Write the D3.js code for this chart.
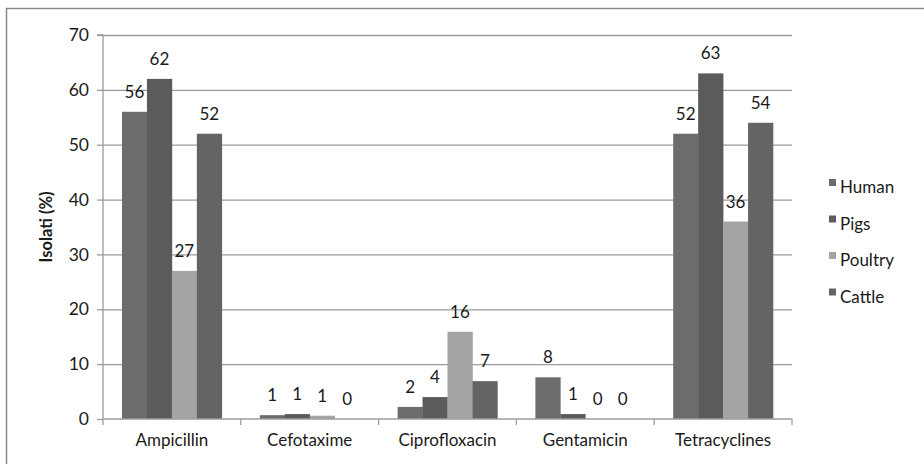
<!DOCTYPE html>
<html><head><meta charset="utf-8">
<script src="https://cdn.jsdelivr.net/npm/d3@7"></script>
<style>body{margin:0;background:#fff}svg{display:block}text{font-family:Lato,"Open Sans",sans-serif;fill:#1a1a1a}</style>
</head><body>
<svg id="c" width="924" height="464"></svg>
<script>
const categories = ["Ampicillin","Cefotaxime","Ciprofloxacin","Gentamicin","Tetracyclines"];
const seriesNames = ["Human","Pigs","Poultry","Cattle"];
const human   = [56, 0.7, 2.2, 7.6, 52];
const pigs    = [62, 0.9, 4.0, 0.9, 63];
const poultry = [27, 0.6, 15.9, 0, 36];
const cattle  = [52, 0, 6.9, 0, 54];
const labelsHuman   = [56, 1, 2, 8, 52];
const labelsPigs    = [62, 1, 4, 1, 63];
const labelsPoultry = [27, 1, 16, 0, 36];
const labelsCattle  = [52, 0, 7, 0, 54];
const yTicks = [0,10,20,30,40,50,60,70];
const colors = ["#6c6c6c","#5b5b5b","#a4a4a4","#646464"];

const values = [human,pigs,poultry,cattle];
const labels = [labelsHuman,labelsPigs,labelsPoultry,labelsCattle];
const svg = d3.select("#c");
const L=103, R=792, T=35, B=419;

svg.append("rect").attr("x",6.5).attr("y",8.5).attr("width",930).attr("height",470)
  .attr("fill","none").attr("stroke","#8a8a8a").attr("stroke-width",1.5);

const x = d3.scaleBand().domain(categories).range([L,R]).paddingInner(0).paddingOuter(0);
const xs2 = d3.scaleBand().domain(seriesNames).range([19, x.bandwidth()-19]);
const y = d3.scaleLinear().domain([0,70]).range([B,T]);

// grid
svg.append("g").selectAll("line").data(yTicks.filter(d=>d>0)).join("line")
  .attr("x1",L).attr("x2",R).attr("y1",d=>y(d)+0.5).attr("y2",d=>y(d)+0.5)
  .attr("stroke","#9c9c9c").attr("stroke-width",1.3);

// bars
const g = svg.append("g");
seriesNames.forEach((s,si)=>{
  g.selectAll(null).data(categories).join("rect")
    .attr("x",c=>x(c)+xs2(s)).attr("width",xs2.bandwidth()+0.3)
    .attr("y",(c,ci)=>y(values[si][ci])).attr("height",(c,ci)=>B-y(values[si][ci]))
    .attr("fill",colors[si]);
  g.selectAll(null).data(categories).join("text")
    .attr("x",c=>x(c)+xs2(s)+xs2.bandwidth()/2)
    .attr("y",(c,ci)=>y(values[si][ci])-14)
    .attr("text-anchor","middle").attr("font-size",17)
    .text((c,ci)=>labels[si][ci]);
});

// y axis
const ya = d3.axisLeft(y).tickValues(yTicks).tickSize(6).tickPadding(8);
const yg = svg.append("g").attr("transform",`translate(${L},0)`).call(ya);
yg.select(".domain").attr("stroke","#9c9c9c").attr("stroke-width",1.3).attr("d",`M-6,${T}H0V${B}`);
yg.selectAll(".tick line").attr("stroke","#9c9c9c").attr("stroke-width",1.3);
yg.selectAll("text").attr("font-size",17.5).attr("font-family","Lato,sans-serif").attr("fill","#1a1a1a");

// x axis
const xa = d3.axisBottom(x).tickSize(0).tickPadding(15);
const xg = svg.append("g").attr("transform",`translate(0,${B})`).call(xa);
xg.select(".domain").attr("stroke","#9c9c9c").attr("stroke-width",1.3).attr("d",`M${L},0H${R}`);
xg.selectAll("text").attr("font-size",17).attr("font-family","Lato,sans-serif").attr("fill","#1a1a1a");
svg.append("g").selectAll("line").data(d3.range(categories.length+1)).join("line")
  .attr("x1",i=>L+i*x.bandwidth()).attr("x2",i=>L+i*x.bandwidth())
  .attr("y1",B).attr("y2",B+6).attr("stroke","#9c9c9c").attr("stroke-width",1.3);

// y title
svg.append("text").attr("transform","translate(52,227) rotate(-90)")
  .attr("text-anchor","middle").attr("font-size",16.5).attr("font-weight","bold").text("Isolati (%)");

// legend
const lg = svg.append("g");
seriesNames.forEach((s,i)=>{
  const yy = 187 + i*36.5;
  lg.append("rect").attr("x",829).attr("y",yy-8).attr("width",7).attr("height",7).attr("fill",colors[i]);
  lg.append("text").attr("x",840).attr("y",yy+6).attr("font-size",17).text(s);
});
</script>
</body></html>
